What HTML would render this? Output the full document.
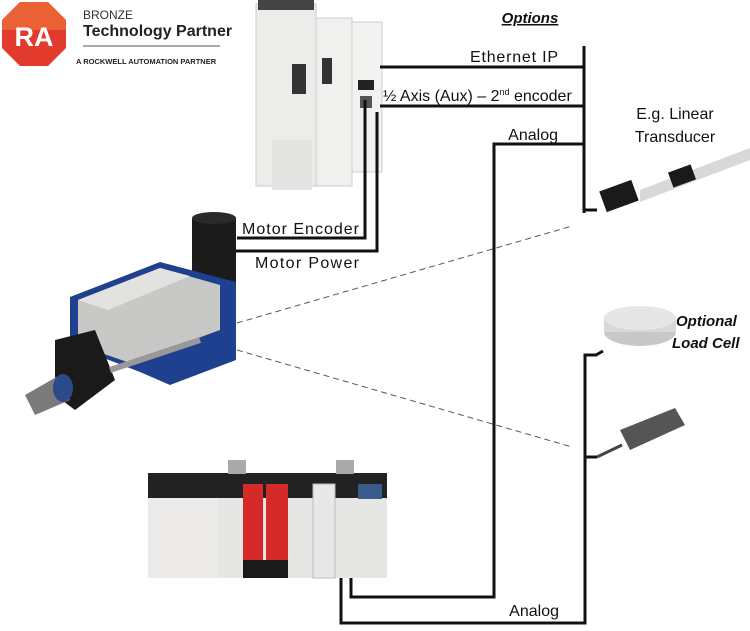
<!DOCTYPE html>
<html><head><style>
html,body{margin:0;padding:0;background:#fff;width:750px;height:631px;overflow:hidden}
svg{display:block}
text{font-family:"Liberation Sans","DejaVu Sans",sans-serif}
</style></head><body>
<svg width="750" height="631" viewBox="0 0 750 631" xmlns="http://www.w3.org/2000/svg">
<!-- RA logo -->
<polygon points="20,2 48,2 66,20 66,48 48,66 20,66 2,48 2,20" fill="#e23a2c"/>
<polygon points="20,2 48,2 66,20 66,30 2,30 2,20" fill="#ee6b3a" opacity="0.8"/>
<text x="34" y="46" font-size="27" font-weight="bold" fill="#fff" text-anchor="middle">RA</text>
<text x="83" y="19" font-size="12" fill="#333">BRONZE</text>
<text x="83" y="36" font-size="16" font-weight="bold" fill="#222">Technology Partner</text>
<line x1="83" y1="46" x2="220" y2="46" stroke="#555" stroke-width="1"/>
<text x="76" y="64" font-size="7.5" font-weight="bold" fill="#222">A ROCKWELL AUTOMATION PARTNER</text>

<!-- Drive -->
<rect x="256" y="4" width="60" height="182" fill="#ececea" stroke="#ccc"/>
<rect x="258" y="0" width="56" height="10" fill="#444"/>
<rect x="316" y="18" width="36" height="168" fill="#f0f0ee" stroke="#ccc"/>
<rect x="352" y="22" width="30" height="150" fill="#f2f2f0" stroke="#ccc"/>
<rect x="292" y="64" width="14" height="30" fill="#333"/>
<rect x="322" y="58" width="10" height="26" fill="#333"/>
<rect x="358" y="80" width="16" height="10" fill="#222"/>
<rect x="360" y="96" width="12" height="12" fill="#555"/>
<rect x="272" y="140" width="40" height="50" fill="#e4e4e2"/>

<!-- Options -->
<text x="530" y="23" font-size="15" font-weight="bold" font-style="italic" fill="#111" text-anchor="middle" text-decoration="underline">Options</text>
<g stroke="#111" stroke-width="3" fill="none">
<line x1="584" y1="46" x2="584" y2="213"/>
<line x1="583" y1="210" x2="597" y2="210"/>
<line x1="380" y1="67" x2="584" y2="67"/>
<line x1="380" y1="106" x2="584" y2="106"/>
<polyline points="584,144 494,144 494,597 351,597 351,576"/>
<polyline points="365,100 365,238 237,238"/>
<polyline points="377,112 377,251 232,251"/>
<polyline points="603,351 596,355 585,355 585,623 341,623 341,576"/>
<line x1="585" y1="457" x2="597" y2="457"/>
</g>
<text x="558" y="62" font-size="16" fill="#111" text-anchor="end" textLength="88">Ethernet IP</text>
<text x="383" y="101" font-size="16" fill="#111">½ Axis (Aux) – 2<tspan font-size="9" dy="-6">nd</tspan><tspan dy="6"> encoder</tspan></text>
<text x="558" y="140" font-size="16" fill="#111" text-anchor="end">Analog</text>
<text x="675" y="119" font-size="16" fill="#111" text-anchor="middle">E.g. Linear</text>
<text x="675" y="142" font-size="16" fill="#111" text-anchor="middle">Transducer</text>
<text x="242" y="234" font-size="16" fill="#111" textLength="117">Motor Encoder</text>
<text x="255" y="268" font-size="16" fill="#111" textLength="104">Motor Power</text>
<text x="559" y="616" font-size="16" fill="#111" text-anchor="end">Analog</text>
<text x="676" y="326" font-size="15" font-weight="bold" font-style="italic" fill="#111">Optional</text>
<text x="672" y="348" font-size="15" font-weight="bold" font-style="italic" fill="#111">Load Cell</text>

<!-- dashed -->
<g stroke="#555" stroke-width="1" stroke-dasharray="6,4">
<line x1="237" y1="323" x2="572" y2="226"/>
<line x1="237" y1="350" x2="572" y2="447"/>
</g>

<!-- linear transducer -->
<polygon points="640,190 750,148 750,160 640,202" fill="#d8d8d6"/>
<rect x="602" y="185" width="34" height="22" fill="#1a1a1a" transform="rotate(-20 619 196)"/>
<rect x="670" y="168" width="24" height="16" fill="#1a1a1a" transform="rotate(-20 682 176)"/>

<!-- load cell -->
<ellipse cx="640" cy="332" rx="36" ry="14" fill="#c8c8c8"/>
<rect x="604" y="318" width="72" height="14" fill="#d8d8d8"/>
<ellipse cx="640" cy="318" rx="36" ry="12" fill="#e6e6e6"/>
<!-- pressure sensor -->
<polygon points="620,430 675,408 685,425 630,450" fill="#555"/>
<line x1="597" y1="457" x2="622" y2="445" stroke="#444" stroke-width="3"/>

<!-- actuator -->
<rect x="192" y="216" width="44" height="74" fill="#1b1b1b" rx="3"/>
<ellipse cx="214" cy="218" rx="22" ry="6" fill="#2a2a2a"/>
<polygon points="70,297 160,262 236,282 236,360 170,385 140,372 70,345" fill="#1f3f8f"/>
<polygon points="78,300 160,268 220,285 220,330 130,363 78,345" fill="#c8c8c6"/>
<polygon points="78,300 160,268 190,276 108,310" fill="#e2e2e0"/>
<polygon points="55,340 95,330 115,380 75,410 55,395" fill="#1a1a1a"/>
<polygon points="25,395 60,375 70,400 35,415" fill="#7a7a7a"/>
<ellipse cx="63" cy="388" rx="10" ry="14" fill="#2a4a8a"/>
<line x1="110" y1="370" x2="200" y2="340" stroke="#999" stroke-width="6"/>

<!-- PLC -->
<rect x="148" y="473" width="239" height="105" fill="#e6e6e4"/>
<rect x="148" y="473" width="239" height="25" fill="#222"/>
<rect x="148" y="498" width="70" height="80" fill="#ecebea"/>
<rect x="243" y="484" width="20" height="94" fill="#d42a2a"/>
<rect x="266" y="484" width="22" height="94" fill="#d42a2a"/>
<rect x="313" y="484" width="22" height="94" fill="#e8e8e8" stroke="#bbb"/>
<rect x="358" y="484" width="24" height="15" fill="#3a5a8a"/>
<rect x="228" y="460" width="18" height="14" fill="#aaa"/>
<rect x="336" y="460" width="18" height="14" fill="#aaa"/>
<rect x="243" y="560" width="45" height="18" fill="#1a1a1a"/>
</svg>
</body></html>
